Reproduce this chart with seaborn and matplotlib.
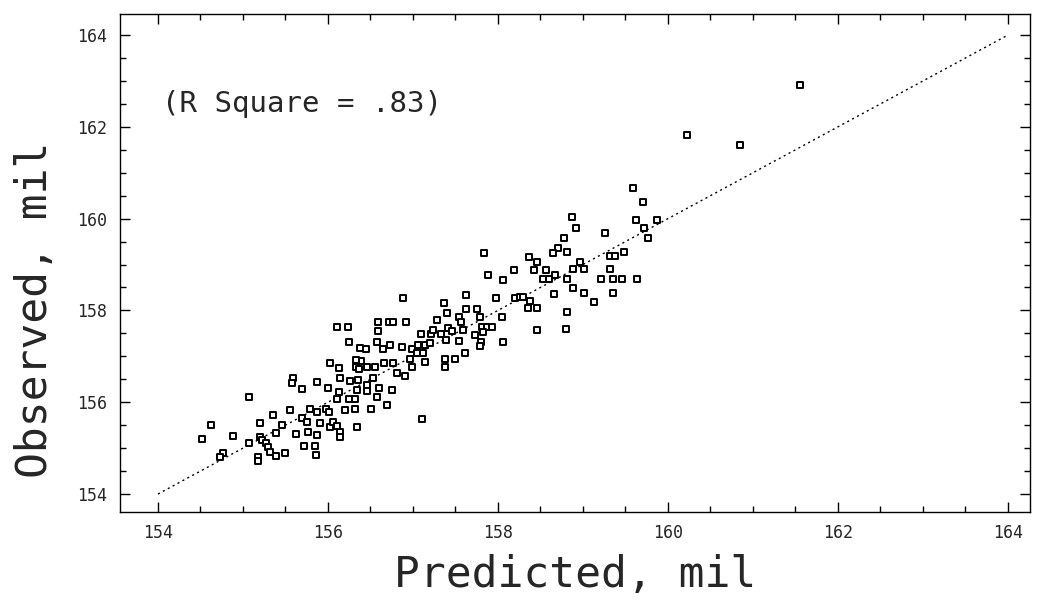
import matplotlib
matplotlib.use("Agg")
import matplotlib.pyplot as plt
import seaborn as sns
import pandas as pd
import numpy as np
from matplotlib.ticker import MultipleLocator

# Predicted vs. observed thickness (mil)
predicted = [
    161.55, 160.22, 160.85,
    159.59, 159.71, 158.87, 159.62, 159.87, 158.92, 159.26, 159.72, 159.76, 158.78,
    158.81, 159.32, 159.38, 159.48, 158.96, 158.88, 159.01, 159.32, 158.81, 159.21,
    159.35, 159.46, 159.64, 158.88, 159.01, 159.35, 159.13, 158.81, 158.80,
    157.84, 158.71, 158.65, 158.36, 158.46, 158.19, 158.42, 158.56, 157.88, 158.06,
    158.53, 158.60, 158.67, 157.62, 157.98, 158.20, 158.26, 158.29, 158.38, 158.66,
    157.62, 157.75, 158.35, 158.46, 157.79, 158.05, 157.59, 157.81, 157.87, 157.93,
    157.73, 158.46, 157.82, 157.80, 158.06, 157.79, 157.61,
    156.88, 157.36, 157.40, 157.54, 157.56, 156.59, 156.72, 156.76, 156.92, 157.28,
    157.41, 157.46, 156.59, 157.09, 157.21, 157.24, 157.33, 157.39, 157.54, 156.58,
    156.73, 156.87, 156.99, 157.06, 157.14, 157.20, 156.38, 156.45, 156.65, 157.38,
    157.49, 157.05, 157.12, 156.96, 157.14, 156.66, 156.76, 156.39, 156.46, 156.55,
    156.99, 157.38, 156.81, 156.91, 156.53, 156.46, 156.60, 156.75, 156.46, 156.58,
    156.51, 156.69, 157.11,
    156.11, 156.24, 156.25, 156.33, 156.02, 156.13, 156.33, 156.36, 155.59, 155.58,
    155.87, 155.69, 156.00, 156.14, 156.26, 156.35, 156.34, 156.13, 156.32, 156.25,
    156.11, 155.07, 155.55, 155.79, 155.87, 155.98, 156.01, 156.20, 156.32, 155.35,
    155.46, 155.69, 155.75, 155.91, 156.02, 156.06, 156.11, 156.14, 156.34, 155.20,
    155.76, 155.62, 155.87, 155.39, 156.14, 155.20,
    154.62, 154.88, 154.52, 155.07, 155.22, 155.27, 155.29, 155.32, 155.39, 155.49,
    155.18, 155.18, 154.76, 154.73, 155.72, 155.85, 155.86,
]
observed = [
    162.91, 161.82, 161.60,
    160.67, 160.36, 160.03, 159.97, 159.97, 159.80, 159.69, 159.80, 159.58, 159.58,
    159.27, 159.19, 159.19, 159.27, 159.05, 158.90, 158.90, 158.90, 158.68, 158.68,
    158.68, 158.68, 158.68, 158.49, 158.38, 158.38, 158.18, 157.97, 157.59,
    159.25, 159.36, 159.25, 159.16, 159.05, 158.88, 158.88, 158.88, 158.77, 158.66,
    158.68, 158.68, 158.77, 158.34, 158.27, 158.27, 158.29, 158.29, 158.20, 158.36,
    158.03, 158.03, 158.05, 158.05, 157.86, 157.86, 157.57, 157.64, 157.64, 157.64,
    157.46, 157.57, 157.53, 157.31, 157.31, 157.22, 157.07,
    158.27, 158.16, 157.94, 157.86, 157.75, 157.75, 157.75, 157.75, 157.75, 157.79,
    157.62, 157.55, 157.55, 157.49, 157.49, 157.57, 157.49, 157.36, 157.33, 157.31,
    157.25, 157.20, 157.16, 157.25, 157.25, 157.29, 157.18, 157.16, 157.16, 156.94,
    156.94, 157.07, 157.07, 156.94, 156.88, 156.85, 156.85, 156.90, 156.77, 156.77,
    156.77, 156.77, 156.64, 156.57, 156.53, 156.37, 156.31, 156.27, 156.24, 156.11,
    155.85, 155.94, 155.63,
    157.64, 157.64, 157.31, 156.92, 156.85, 156.75, 156.77, 156.73, 156.53, 156.42,
    156.44, 156.29, 156.31, 156.53, 156.46, 156.48, 156.27, 156.22, 156.07, 156.07,
    156.07, 156.11, 155.83, 155.85, 155.79, 155.85, 155.79, 155.83, 155.85, 155.72,
    155.50, 155.66, 155.57, 155.55, 155.46, 155.57, 155.48, 155.35, 155.46, 155.55,
    155.35, 155.31, 155.29, 155.33, 155.24, 155.24,
    155.50, 155.26, 155.20, 155.11, 155.18, 155.11, 155.02, 154.92, 154.83, 154.89,
    154.81, 154.72, 154.89, 154.81, 155.05, 155.05, 154.85,
]

# Line of perfect agreement
identity = [154, 164]

axis_ticks = [154, 156, 158, 160, 162, 164]
r_square_text = "(R Square = .83)"

df = pd.DataFrame({"Predicted": predicted, "Observed": observed})

sns.set_style("white")
plt.rcParams["font.family"] = ["DejaVu Sans Mono"]

fig = plt.figure(figsize=(10.37, 6.00), dpi=100)
ax = fig.add_axes([120 / 1037, 1 - 512 / 600, 910 / 1037, 498 / 600])

ax.plot(identity, identity, color="black", lw=1.0, linestyle=(0, (1.5, 2.5)), zorder=1)

sns.scatterplot(
    data=df, x="Predicted", y="Observed", ax=ax,
    marker="s", s=18, facecolor="white", edgecolor="black", linewidth=1.4,
    zorder=2, legend=False,
)

ax.set_xlim(153.553, 164.259)
ax.set_ylim(153.608, 164.458)

ax.set_xticks(axis_ticks)
ax.set_yticks(axis_ticks)
ax.xaxis.set_minor_locator(MultipleLocator(0.5))
ax.yaxis.set_minor_locator(MultipleLocator(0.5))
ax.tick_params(which="both", direction="in", top=True, right=True,
               bottom=True, left=True, color="black", width=1.0)
ax.tick_params(which="major", length=7, labelsize=12, pad=9)
ax.tick_params(which="minor", length=4)

for side in ["left", "right", "top", "bottom"]:
    ax.spines[side].set_visible(True)
    ax.spines[side].set_color("black")
    ax.spines[side].set_linewidth(1.0)

ax.set_xlabel("Predicted, mil", fontsize=31)
ax.set_ylabel("Observed, mil", fontsize=31)
ax.xaxis.set_label_coords(0.5, -0.085)
ax.yaxis.set_label_coords(-0.07, 0.405)

ax.text(154.05, 162.5, r_square_text, fontsize=21, va="center", ha="left")

fig.savefig("out.png", dpi=100)
